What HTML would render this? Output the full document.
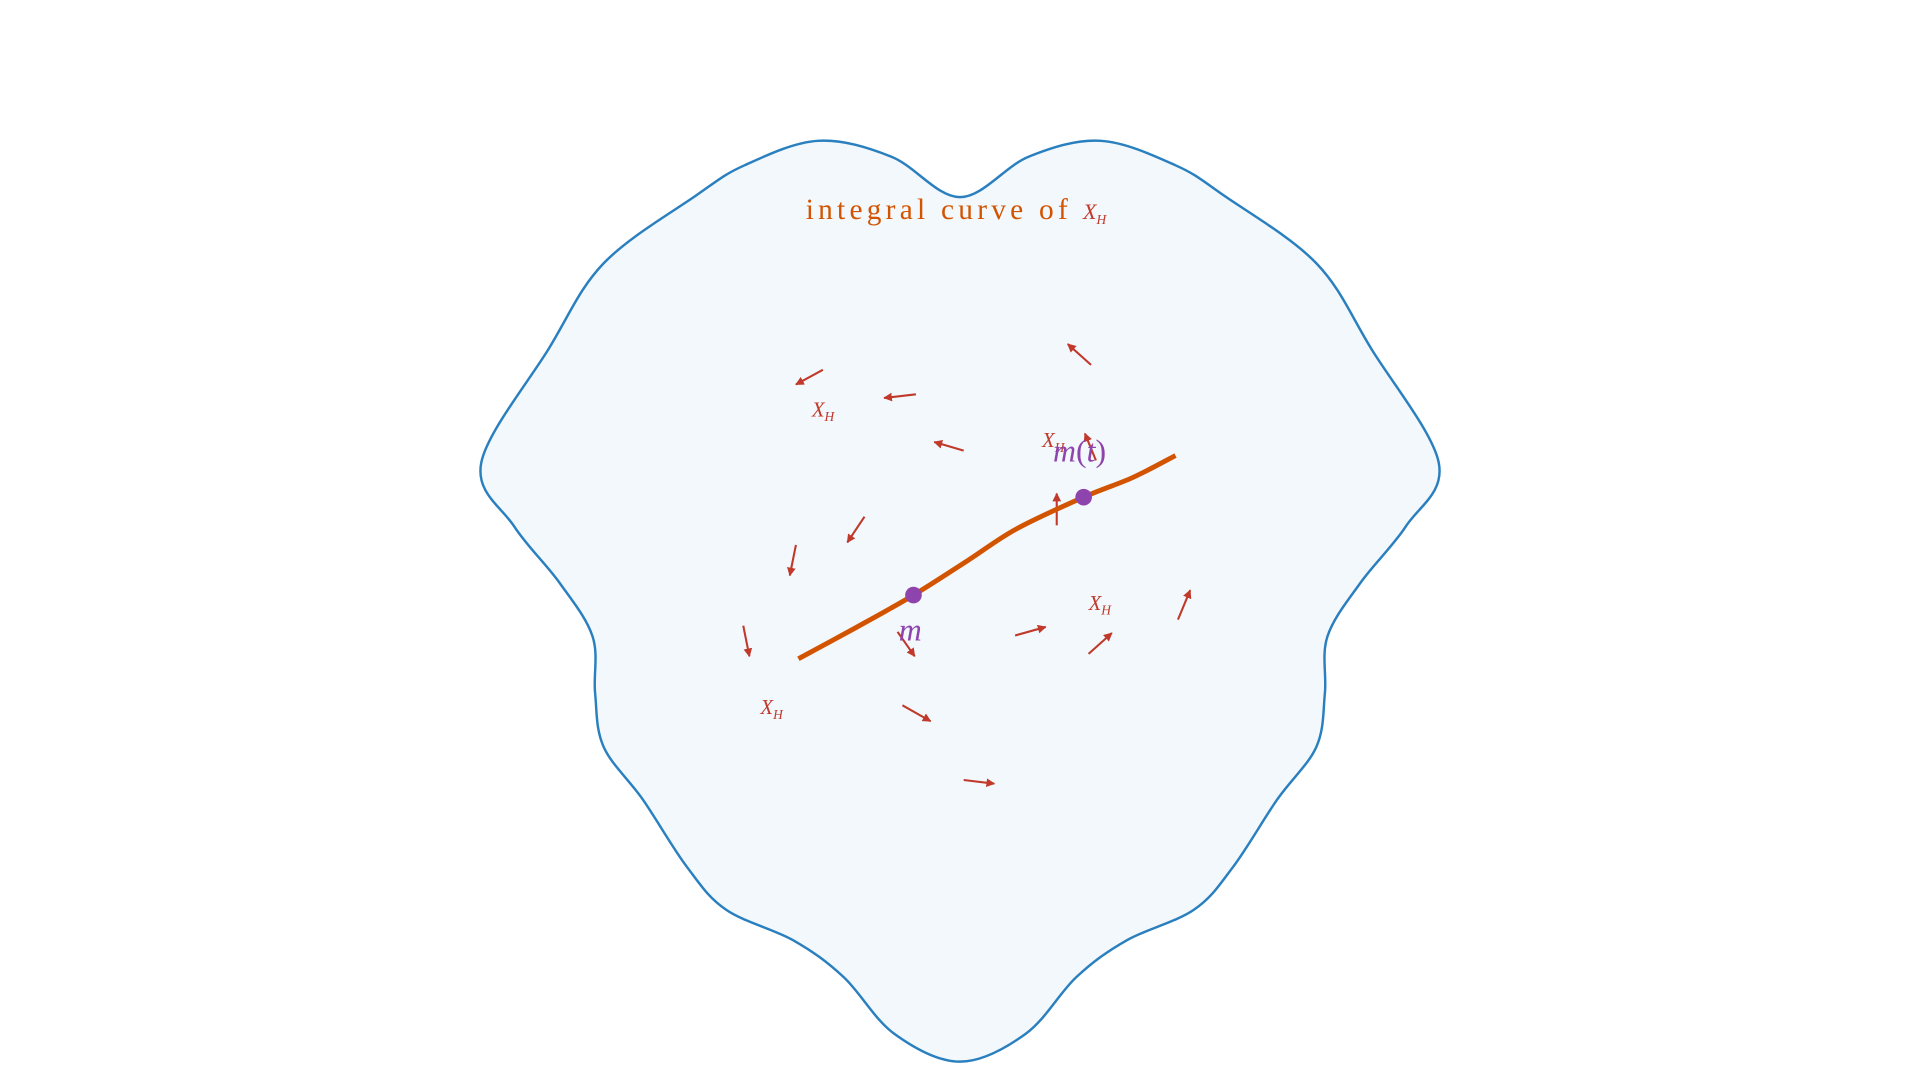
<!DOCTYPE html>
<html><head><meta charset="utf-8"><style>
html,body{margin:0;padding:0;background:#fff;}
svg{display:block;}
text{font-family:"Liberation Serif","DejaVu Serif",serif;}
</style></head>
<body>
<svg id="fig" width="1920" height="1080" viewBox="0 0 1568 882" xmlns="http://www.w3.org/2000/svg">
<defs>
<marker id="ah" viewBox="0 0 10 10" refX="9" refY="5" markerWidth="4.2" markerHeight="4.2" orient="auto"><path d="M0,0 L10,5 L0,10 z" fill="#c0392b"/></marker>
</defs>
<path id="blob" fill="#f2f8fc" stroke="#2a7fbf" stroke-width="2"/>
<g id="arrows"></g>
<path id="curve" fill="none" stroke="#d35400" stroke-width="4"/>
<g id="dots"></g>
<text x="658" y="179" font-size="24" fill="#d35400"><tspan textLength="214" lengthAdjust="spacing">integral curve of</tspan><tspan dx="9" font-style="italic" fill="#c0392b" font-size="18">X</tspan><tspan font-style="italic" fill="#c0392b" font-size="11" dy="4">H</tspan></text>
<g fill="#c0392b" font-style="italic">
<text x="663" y="340" font-size="17">X<tspan font-size="11" dy="4">H</tspan></text>
<text x="851" y="365" font-size="17">X<tspan font-size="11" dy="4">H</tspan></text>
<text x="889" y="498" font-size="17">X<tspan font-size="11" dy="4">H</tspan></text>
<text x="621" y="583" font-size="17">X<tspan font-size="11" dy="4">H</tspan></text>
</g>
<text x="860" y="377" font-size="26" fill="#8e44ad"><tspan font-style="italic">m</tspan>(<tspan font-style="italic">t</tspan>)</text>
<text x="734" y="523" font-size="26" font-style="italic" fill="#8e44ad">m</text>
</svg>
<script>
const blobPts=[[784,161],[840,128],[899,115],[960,135],[1000,160],[1075,215],[1120,285],[1175,378],[1148,430],[1111,476],[1084,520],[1082,566],[1075,610],[1043,653],[1007,708],[975,743],[920,768],[879,798],[838,844],[784,867],[730,844],[689,798],[648,768],[593,743],[561,708],[525,653],[493,610],[486,566],[484,520],[457,476],[420,430],[393,378],[448,285],[493,215],[568,160],[608,135],[668,115],[728,128]];
const curvePts=[[652,538],[700,512],[746,486],[790,458],[830,432],[885,406],[925,390],[960,372]];
const arrowTails=[[672,302],[748,322],[891,298],[787,368],[895,376],[706,422],[650,445],[863,429],[607,511],[733,516],[829,519],[889,534],[962,506],[737,576],[787,637]];
const arrowVecs=[[-22,12],[-26,3],[-19,-17],[-24,-7],[-9,-22],[-14,21],[-5,25],[0,-26],[5,25],[14,20],[25,-7],[19,-17],[10,-24],[23,13],[25,3]];
const markPts=[[746,486],[885,406]];
function cr(p,closed){const n=p.length;let d=`M${p[0][0]},${p[0][1]}`;const g=i=>closed?p[(i+n)%n]:p[Math.max(0,Math.min(n-1,i))];const m=closed?n:n-1;for(let i=0;i<m;i++){const p0=g(i-1),p1=g(i),p2=g(i+1),p3=g(i+2);d+=` C${p1[0]+(p2[0]-p0[0])/6},${p1[1]+(p2[1]-p0[1])/6} ${p2[0]-(p3[0]-p1[0])/6},${p2[1]-(p3[1]-p1[1])/6} ${p2[0]},${p2[1]}`;}return d+(closed?'Z':'');}
document.getElementById('blob').setAttribute('d',cr(blobPts,true));
document.getElementById('curve').setAttribute('d',cr(curvePts,false));
const NS='http://www.w3.org/2000/svg';
const ag=document.getElementById('arrows');
arrowTails.forEach((t,i)=>{const v=arrowVecs[i];const l=document.createElementNS(NS,'line');
l.setAttribute('x1',t[0]);l.setAttribute('y1',t[1]);l.setAttribute('x2',t[0]+v[0]);l.setAttribute('y2',t[1]+v[1]);
l.setAttribute('stroke','#c0392b');l.setAttribute('stroke-width','1.7');l.setAttribute('marker-end','url(#ah)');


ag.appendChild(l);});
const dg=document.getElementById('dots');
markPts.forEach(p=>{const c=document.createElementNS(NS,'circle');c.setAttribute('cx',p[0]);c.setAttribute('cy',p[1]);c.setAttribute('r','6.8');c.setAttribute('fill','#8e44ad');


dg.appendChild(c);});
</script>
</body></html>
